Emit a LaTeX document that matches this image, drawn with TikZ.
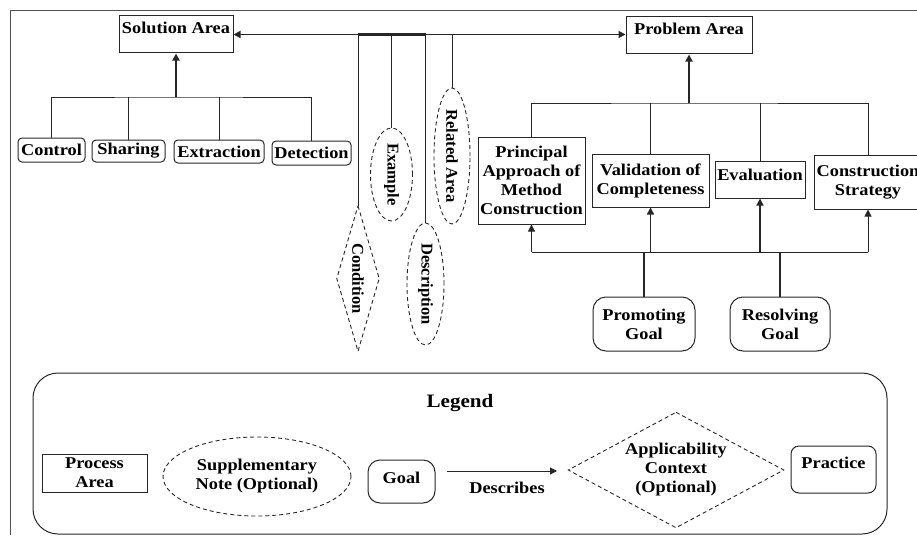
\documentclass[tikz,border=0pt]{standalone}
\usepackage{fontspec}
\setmainfont{Liberation Serif}[FakeStretch=1.11]
\newfontfamily\uprightfont{Liberation Serif}
\usepackage{graphicx}
\usetikzlibrary{arrows.meta,shapes.geometric}

\definecolor{ink}{HTML}{262626}
\definecolor{framegray}{HTML}{505050}

% vertical label, read from top to bottom
\newcommand{\vlabel}[1]{\rotatebox{-90}{\uprightfont\bfseries #1}}

\tikzset{
  every node/.style={font=\fontsize{16.5}{19}\selectfont\bfseries, text=black, inner sep=0pt},
  area/.style={draw=ink, line width=1pt, align=center},
  practice/.style={draw=ink, line width=1pt, rounded corners=4pt, align=center},
  goalbox/.style={draw=ink, line width=1pt, rounded corners=13pt, align=center},
  note/.style={draw=ink, ellipse, line width=0.9pt, dash pattern=on 4pt off 3pt, align=center},
  ctxshape/.style={draw=ink, line width=0.9pt, dash pattern=on 4pt off 3pt},
  link/.style={draw=ink, line width=1pt},
  heavy/.style={line width=1.8pt},
  tip/.tip={Triangle[length=7pt,width=7pt]},
  arr/.style={link, -tip},
  frame/.style={draw=framegray, line width=0.9pt},
}

\begin{document}
\begin{tikzpicture}[x=1pt,y=-1pt]
\clip (0,0) rectangle (917,535);

% outer frame
\draw[frame] (10,535) -- (10,10) -- (917,10);

% ---------------- solution side ----------------
\node[area, minimum width=114, minimum height=37, text depth=13pt] (sol) at (176,34.5) {Solution Area};
\node[practice, minimum width=67, minimum height=24] (ctl) at (51.5,150) {Control};
\node[practice, minimum width=73, minimum height=22] (sha) at (128.5,151) {Sharing};
\node[practice, minimum width=90, minimum height=23] (ext) at (219,151.5) {Extraction};
\node[practice, minimum width=79, minimum height=24] (det) at (311.5,153) {Detection};

\coordinate (jS) at (176,97);
\draw[arr, heavy] (jS) -- (sol.south);
\draw[link] (ctl.north) |- (jS) -| (det.north);
\draw[link] (sha.north) -- (sha.north |- jS);
\draw[link] (ext.north) -- (ext.north |- jS);

% ---------------- problem side ----------------
\node[area, minimum width=126, minimum height=37, text depth=13pt] (prob) at (689,35.5) {Problem Area};
\node[area, minimum width=107, minimum height=87] (pa) at (531.5,180.5) {Principal\\Approach of\\Method\\Construction};
\node[area, minimum width=117, minimum height=53] (vc) at (650.5,180.5) {Validation of\\Completeness};
\node[area, minimum width=90, minimum height=37, text depth=10pt] (ev) at (760,179.5) {Evaluation};
\node[area, minimum width=108, minimum height=54] (cs) at (868,182) {Construction\\Strategy};

\coordinate (jP) at (689,103);
\draw[arr, heavy] (jP) -- (prob.south);
\draw[link] (pa.north) |- (jP) -| (cs.north);
\draw[link] (vc.north) -- (vc.north |- jP);
\draw[link] (ev.north) -- (ev.north |- jP);

% goals feeding the problem area practices
\node[goalbox, minimum width=102, minimum height=54] (pg) at (644,324) {Promoting\\Goal};
\node[goalbox, minimum width=100, minimum height=54] (rg) at (780,324) {Resolving\\Goal};

\coordinate (jB) at (0,252);
\draw[link] (pa.south |- jB) -- (cs.south |- jB);
\draw[arr] (pa.south |- jB) -- (pa.south);
\draw[arr, line width=1.4pt] (vc.south |- jB) -- (vc.south);
\draw[arr, line width=1.4pt] (ev.south |- jB) -- (ev.south);
\draw[arr] (cs.south |- jB) -- (cs.south);
\draw[link, line width=1.4pt] (pg.north) -- (pg.north |- jB);
\draw[link, line width=1.4pt] (rg.north) -- (rg.north |- jB);

% ---------------- link between the two areas ----------------
\draw[link, heavy, tip-tip] (sol.east) -- (sol.east -| prob.west);

\node[minimum width=42, minimum height=145] (cond) at (358,278.5) {\vlabel{Condition}};
\draw[ctxshape] (cond.north) -- (cond.east) -- (cond.south) -- (cond.west) -- cycle;
\node[note, minimum width=42, minimum height=93] (exa) at (391.5,174.5) {\vlabel{Example}};
\node[note, minimum width=37, minimum height=122] (dsc) at (425.5,284) {\vlabel{Description}};
\node[note, minimum width=36, minimum height=136] (rel) at (452,156) {\vlabel{Related Area}};

\coordinate (tC) at (cond.north |- sol.east);
\coordinate (tE) at (exa.north |- sol.east);
\coordinate (tD) at (dsc.north |- sol.east);
\coordinate (tR) at (rel.north |- sol.east);
\draw[link, line width=2.4pt] (tC) -- (tD);
\draw[link] (tC) -- (cond.north);
\draw[link] (tE) -- (exa.north);
\draw[link] (tD) -- (dsc.north);
\draw[link] (tR) -- (rel.north);

% ---------------- legend ----------------
\node[draw=ink, line width=1pt, rounded corners=25pt, minimum width=854, minimum height=161] (legend) at (460,453.5) {};
\node[font=\fontsize{19}{22}\selectfont\bfseries] (legtitle) at (460,403) {Legend};

\node[area, minimum width=105, minimum height=38] (lpa) at (94.5,473) {Process\\Area};
\node[note, minimum width=188, minimum height=79] (lnote) at (257,476.5) {Supplementary\\Note (Optional)};
\node[goalbox, rounded corners=12pt, minimum width=67, minimum height=43, text depth=8pt] (lgoal) at (401.5,481.5) {Goal};

\coordinate (la) at (447,471);
\coordinate (lb) at (557,471);
\draw[arr] (la) -- (lb);
\node (ldesc) at (507,488) {Describes};

\node[minimum width=215, minimum height=115, align=center] (lctx) at (676,470) {Applicability\\Context\\(Optional)};
\draw[ctxshape] (lctx.north) -- (lctx.east) -- (lctx.south) -- (lctx.west) -- cycle;

\node[draw=ink, line width=1pt, rounded corners=8pt, minimum width=85, minimum height=47, text depth=14pt] (lprac) at (833.5,469.5) {Practice};

\end{tikzpicture}
\end{document}
